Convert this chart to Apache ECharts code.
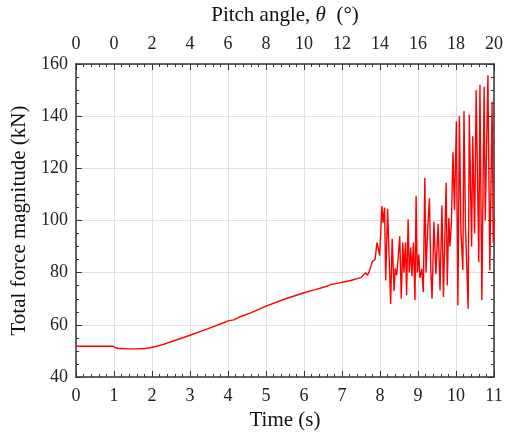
<!DOCTYPE html>
<html>
<head>
<meta charset="utf-8">
<script src="https://cdn.jsdelivr.net/npm/echarts@6/dist/echarts.min.js"></script>
<style>html,body{margin:0;padding:0;background:#fff}#c{width:506px;height:436px}</style>
</head>
<body>
<div id="c"></div>
<script>
// Time (s)
var timeS = [0,0.5,0.98,1.0,1.05,1.15,1.35,1.6,1.8,1.95,2.1,2.3,2.6,3.0,3.3,3.6,3.9,4.0,4.05,4.15,4.2,4.3,4.6,5.0,5.5,6.0,6.3,6.6,
 6.65,6.7,6.75,6.8,6.85,6.9,6.95,7.0,7.05,7.1,7.15,7.2,7.25,7.3,7.35,7.4,7.45,7.5,7.55,7.62,7.67,7.71,7.76,7.8,7.85,7.87,7.92,7.96,7.99,
 8.05,8.08,8.12,8.15,8.2,8.25,8.28,8.32,8.37,8.4,8.44,8.48,8.52,8.56,8.6,8.63,8.67,8.7,8.74,8.77,8.81,8.84,8.88,8.92,8.95,8.98,
 9.02,9.05,9.1,9.14,9.18,9.21,9.25,9.3,9.34,9.37,9.42,9.47,9.53,9.58,9.63,9.67,9.74,9.77,9.81,9.84,9.88,9.92,9.96,
 10.01,10.05,10.09,10.13,10.18,10.21,10.25,10.32,10.35,10.41,10.44,10.49,10.53,10.6,10.63,10.68,10.74,10.77,10.84,10.89,10.95,10.98,11.0];
// Total force magnitude (kN)
var forceKN = [51.8,51.8,51.8,51.3,51.1,50.9,50.8,50.8,50.9,51.2,51.7,52.5,54.0,56.0,57.6,59.2,60.9,61.5,61.8,61.9,62.6,63.0,64.6,67.2,69.9,72.3,73.5,74.8,
 74.3,75.4,74.8,75.7,75.0,76.0,75.4,76.3,75.7,76.6,76.0,76.9,76.3,77.3,76.7,77.7,77.2,78.1,78.2,80.0,79.0,80.2,80.3,84.3,84.0,85.0,91.5,89.0,86.5,
 105.5,99.2,105.0,77.0,104.5,82.0,68.0,93.0,73.0,81.6,79.0,86.0,94.0,70.0,91.6,80.0,91.6,71.3,100.5,80.0,89.6,78.6,91.6,69.4,109.5,80.0,
 87.0,78.0,81.5,72.5,116.3,80.0,95.0,108.5,80.0,70.0,99.5,79.5,98.7,73.2,105.7,70.7,114.5,75.1,101.0,90.0,99.4,126.2,104.0,
 138.0,67.4,140.0,96.0,81.0,142.0,97.5,66.2,140.6,90.0,132.3,95.0,150.0,84.0,152.0,69.4,151.3,100.0,155.7,80.9,145.5,91.5,100.0];
// Tick labels
var pitchLabels = ['0','0','2','4','6','8','10','12','14','16','18','20'];

var font = 'Liberation Serif';
var data = timeS.map(function(t,i){return [t, forceKN[i]];});
var axisLineStyle = {color:'#333', width:1.5};
var chart = echarts.init(document.getElementById('c'));
chart.setOption({
  animation:false,
  grid:{left:76,right:12,top:62,bottom:59},
  xAxis:[{
    type:'value', min:0, max:11, interval:1, position:'bottom',
    name:'Time (s)', nameLocation:'middle', nameGap:30,
    nameTextStyle:{fontFamily:font,fontSize:21,color:'#111'},
    axisLine:{show:true,onZero:false,lineStyle:axisLineStyle},
    axisTick:{show:true,inside:true,length:6,lineStyle:{color:'#333'}},
    minorTick:{show:true,splitNumber:5,length:3,lineStyle:{color:'#333'}},
    axisLabel:{fontFamily:font,fontSize:18,color:'#222',margin:10},
    splitLine:{show:true,lineStyle:{color:'#e0e0e0',width:1}}
  },{
    type:'value', min:0, max:11, interval:1, position:'top',
    name:'{n|Pitch angle, }{i|θ}{n|  (°)}', nameLocation:'middle', nameGap:38,
    nameTextStyle:{rich:{n:{fontFamily:font,fontSize:21,color:'#111'},i:{fontFamily:font,fontSize:21,fontStyle:'italic',color:'#111'}}},
    axisLine:{show:true,onZero:false,lineStyle:axisLineStyle},
    axisTick:{show:true,inside:true,length:6,lineStyle:{color:'#333'}},
    minorTick:{show:true,splitNumber:5,length:3,lineStyle:{color:'#333'}},
    axisLabel:{fontFamily:font,fontSize:18,color:'#222',margin:11,
      formatter:function(v){return pitchLabels[Math.round(v)];}},
    splitLine:{show:false}
  }],
  yAxis:[{
    type:'value', min:40, max:160, interval:20, position:'left',
    name:'Total force magnitude (kN)', nameLocation:'middle', nameGap:35,
    nameTextStyle:{fontFamily:font,fontSize:21,color:'#111'},
    axisLine:{show:true,onZero:false,lineStyle:axisLineStyle},
    axisTick:{show:true,inside:true,length:6,lineStyle:{color:'#333'}},
    minorTick:{show:true,splitNumber:4,length:3,lineStyle:{color:'#333'}},
    axisLabel:{fontFamily:font,fontSize:18,color:'#222',margin:8},
    splitLine:{show:true,lineStyle:{color:'#e0e0e0',width:1}}
  },{
    type:'value', min:40, max:160, interval:20, position:'right',
    axisLine:{show:true,onZero:false,lineStyle:axisLineStyle},
    axisTick:{show:true,inside:true,length:6,lineStyle:{color:'#333'}},
    minorTick:{show:true,splitNumber:4,length:3,lineStyle:{color:'#333'}},
    axisLabel:{show:false},
    splitLine:{show:false}
  }],
  series:[{
    type:'line', data:data, xAxisIndex:0, yAxisIndex:0,
    showSymbol:false, symbol:'none',
    lineStyle:{color:'#ff0000',width:1.4}
  }]
});
</script>
</body>
</html>
